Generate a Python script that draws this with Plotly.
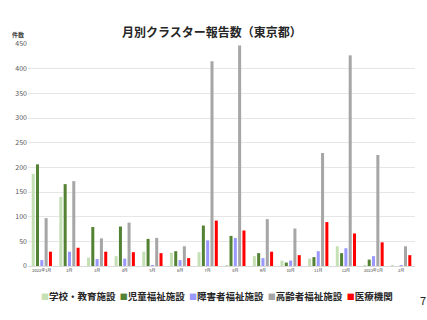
import plotly.graph_objects as go

month_keys = ["2022-01", "2022-02", "2022-03", "2022-04", "2022-05", "2022-06", "2022-07",
              "2022-08", "2022-09", "2022-10", "2022-11", "2022-12", "2023-01", "2023-02"]
month_labels = ["2022年1月", "2月", "3月", "4月", "5月", "6月", "7月", "8月", "9月", "10月",
                "11月", "12月", "2023年1月", "2月"]
school = [187, 140, 17, 20, 29, 27, 28, 2, 20, 11, 15, 40, 2, 1]
child = [206, 166, 79, 80, 55, 30, 82, 61, 26, 7, 18, 26, 13, 0]
disability = [12, 29, 14, 15, 2, 12, 52, 57, 16, 11, 30, 36, 20, 2]
elderly = [97, 172, 56, 88, 57, 40, 415, 447, 95, 76, 229, 427, 225, 40]
medical = [29, 37, 29, 28, 26, 16, 92, 72, 29, 22, 89, 66, 48, 22]

series = [
    ("学校・教育施設", school, "#c5e0b4"),
    ("児童福祉施設", child, "#548235"),
    ("障害者福祉施設", disability, "#9999ff"),
    ("高齢者福祉施設", elderly, "#a6a6a6"),
    ("医療機関", medical, "#ff0000"),
]

W, H = 427, 320
L, R, T, B = 28, 12, 44, 54
FONT = "Noto Sans CJK JP"
pw, ph = W - L - R, H - T - B

fig = go.Figure()
for name, vals, col in series:
    fig.add_trace(go.Bar(x=month_keys, y=vals, name=name, marker=dict(color=col, line=dict(width=0))))

legend_text = "&nbsp;&nbsp;".join(
    f"<span style='color:{col};font-size:8px'>■</span><b>{name}</b>" for name, _, col in series
)

fig.update_layout(
    width=W, height=H,
    margin=dict(l=L, r=R, t=T, b=B, autoexpand=False),
    paper_bgcolor="white", plot_bgcolor="white",
    barmode="group", bargap=0.22, bargroupgap=0.3,
    font=dict(family=FONT, color="#404040"),
    title=dict(text="<b>月別クラスター報告数（東京都）</b>", x=212 / W, xref="container",
               y=1 - 33 / H, yref="container", yanchor="middle", xanchor="center",
               font=dict(size=12, color="#262626", family=FONT)),
    xaxis=dict(type="category", tickmode="array", tickvals=month_keys, ticktext=month_labels,
               tickfont=dict(size=4, color="#404040"), showline=True, linecolor="#d9d9d9",
               linewidth=1, ticks="", showgrid=False, automargin=False),
    yaxis=dict(range=[0, 450], dtick=50, tickfont=dict(size=7, color="#595959"),
               showgrid=True, gridcolor="#e6e6e6", gridwidth=1, zeroline=False, ticks="",
               automargin=False),
    showlegend=False,
    annotations=[
        dict(text="<b>件数</b>", xref="paper", yref="paper", x=(18 - L) / pw, y=1 + 10 / ph,
             showarrow=False, font=dict(size=6, color="#404040"), xanchor="center", yanchor="middle"),
        dict(text=legend_text, xref="paper", yref="paper", x=(217 - L) / pw, y=-(296 - (H - B)) / ph,
             showarrow=False, font=dict(size=9.5, color="#262626", family=FONT),
             xanchor="center", yanchor="middle"),
        dict(text="7", xref="paper", yref="paper", x=(423 - L) / pw, y=-(300 - (H - B)) / ph,
             showarrow=False, font=dict(size=11, color="#262626"), xanchor="center", yanchor="middle"),
    ],
)
fig.write_html("out.html")
